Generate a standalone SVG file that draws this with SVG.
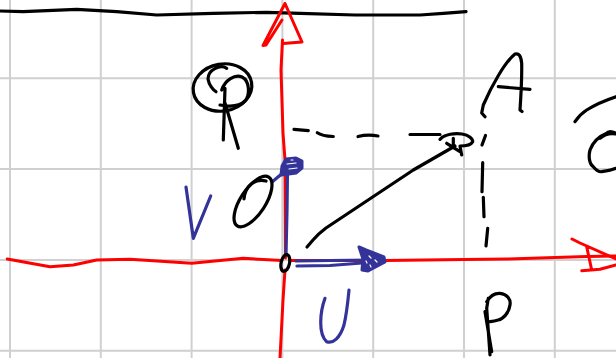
<svg xmlns="http://www.w3.org/2000/svg" width="616" height="358" viewBox="0 0 616 358">
<style>
.grid{stroke:#d0d0d0;stroke-width:2;fill:none}
.ink{stroke:#000;stroke-width:3.2;fill:none;stroke-linecap:round;stroke-linejoin:round}
.red{stroke:#ff0000;stroke-width:3;fill:none;stroke-linecap:round;stroke-linejoin:round}
.blue{stroke:#333399;stroke-width:3.2;fill:none;stroke-linecap:round;stroke-linejoin:round}
.blob{fill:#333399;stroke:#333399;stroke-width:3;stroke-linejoin:round}
.hi{stroke:#ffffff;stroke-width:1.2;fill:none;stroke-linecap:round}
.dash{stroke:#000;stroke-width:3.2;fill:none;stroke-linecap:round}
</style>
<rect width="616" height="358" fill="#ffffff"/>
<g id="grid" class="grid">
<path d="M10,0V358M100.8,0V358M191.6,0V358M282.4,0V358M373.2,0V358M464,0V358M554.8,0V358"/>
<path d="M0,78.3H616M0,169.1H616M0,259.9H616M0,350.7H616"/>
</g>
<g id="top-line">
<path class="ink" d="M0,11 L23,11.7 L76.7,9.3 L116.7,11.7 L156.7,15 L213,13.3 L266.7,12.3 L300,13.3 L355,15 L420,15 L443.3,13.3 L466,11.7"/>
</g>
<g id="connectors">
<g id="y-axis">
<path class="red" d="M282.5,40 L281,70 L283,133 L285,160 L285.5,258 M285,270 L283,300 L280,358"/>
<path class="red" d="M285,3.5 L302,42 L283,43.5 M285,3.5 L263,45.5 L266,45 L282,20"/>
</g>
<g id="x-axis">
<path class="red" d="M7.3,259 L50,266.7 L73.3,265 L96.7,260 L130,259.3 L191.7,263.3 L243.3,258.3 L282,260.5 M290,260.5 L385,260.5 L463.6,259.5 L506.8,259 L586.7,256.5 L616,256"/>
<path class="red" d="M572,239 L580,243 L616,259 M586.7,246.7 L591.7,270 M581.7,270.7 L600,269.3 L616,265"/>
</g>
<g id="dashed-horizontal">
<path class="dash" d="M294,129.3 L308.3,130.7 M317.3,132.7 Q322,136 333.3,136.5 M358,136.5 Q368,134 378,136 M410,134.5 L440,134.5"/>
</g>
<g id="dashed-vertical">
<path class="dash" d="M485.5,135.5 L482,145" stroke-width="4.5"/>
<path class="dash" d="M482.7,162.7 L482,191.7 M483.3,197.3 L484,216.7 M487.7,228.3 L486,246"/>
</g>
<g id="diagonal">
<path class="ink" d="M307,247 L313,240 C318,234 322,231 326,228 L413.3,170 L455,146"/>
<path class="ink" d="M440,139.3 C445,134 455,133 462,134 C469,135 473,139 472.7,141.7 C471,145 465,146 460,146 L461.7,155 M446.7,143.3 L460,151.7 M453.3,138.3 L453.3,146.7"/>
</g>
<g id="vec-u">
<path class="blue" stroke-width="7" d="M296,261 L330,260.5 L370,260 L383,260"/>
<path class="blue" stroke-width="5" d="M297,266 L330,265.5 L362,263"/>
<path class="blob" d="M359,247 L366,250 L384,257 L385,262 L368,271 L362,270 L363,259 Z"/>
<path class="hi" d="M369,256 L371,258 M375,260 L377,262 M370,265 L371,267 M366,261 L367,263"/>
</g>
<g id="vec-v">
<path class="blue" stroke-width="6.5" d="M286,254 L287,210 L287.5,168"/>
<path class="blue" stroke-width="3.5" d="M272,182 L284,172"/>
<path class="blob" d="M281,175 L282,166 L286,159 L296,158 L302,161 L302,168 L296,173 L289,174 Z"/>
<path class="hi" d="M287,164 L296,163 M289,169 L297,168 M291,160 L293,160"/>
</g>
</g>
<g id="origin">
<ellipse class="ink" cx="285.3" cy="263" rx="4.2" ry="8.5" transform="rotate(12 285.3 263)" stroke-width="3.5"/>
</g>
<g id="label-theta">
<ellipse class="ink" cx="253" cy="201.5" rx="29" ry="12.5" transform="rotate(-57 253 201.5)"/>
<path class="ink" d="M244,199 C245,186 255,178 266,181"/>
</g>
<g id="label-v">
<path class="blue" d="M186,187 L193.3,238.3 L210.7,196"/>
</g>
<g id="label-u">
<path class="blue" d="M325,298.3 C320,312 318,334 326.7,341.7 C333,344 340,338 344,325 C347,312 348,300 349,290"/>
</g>
<g id="label-r">
<ellipse class="ink" cx="222.5" cy="87.5" rx="29.5" ry="23.5" transform="rotate(-10 222.5 87.5)"/>
<path class="ink" d="M226.7,68.3 C220,64 208,70 208,79 C209,85 213,90 216,91.7"/>
<path class="ink" d="M225,88.3 L223.3,140 M221.7,90 C225,80 235,74 242,77 C250,81 250,95 245,101 C240,106 230,107 220,105 M225,103 L238.3,148.3"/>
</g>
<g id="label-a">
<path class="ink" d="M485,116.7 L481.7,113 L483.3,105 C492,85 505,62 515,54 C519,53 521,56 521.7,63.3 C522,80 521,95 520,110 L522,111.5 M498.3,86.7 L530,89.3"/>
</g>
<g id="label-p">
<path class="ink" d="M490,355 L486.7,308.3 L488.3,298.3 M486.7,301.7 C490,296 495,293 500,293.3 C507,294 511,299 510,305 C509,313 503,319 498.3,320 C494,321 490,322 488.3,321.7 M485,311.7 L491.7,351.7"/>
</g>
<g id="label-right">
<path class="ink" d="M575,121.7 C578,117 582,113 586.7,110 C596,104 606,100 616,96.7"/>
<path class="ink" d="M616,133.3 C612,131 608,131 606.7,133.3 C600,136 593,142 590,150 C588,158 590,165 593.3,166.7 C596,170 599,172 601.7,171.7 C606,171 612,170 616,168.3 M600,138.3 C605,134 611,133 616,134"/>
</g>
</svg>
